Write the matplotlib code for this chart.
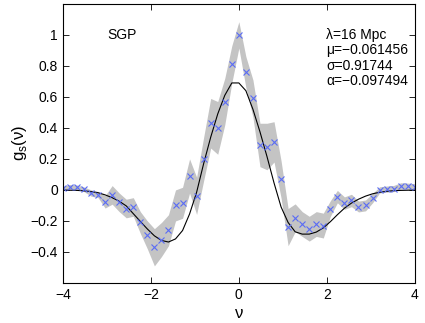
import numpy as np
import matplotlib
matplotlib.use('Agg')
import matplotlib.pyplot as plt

plt.rcParams['font.family'] = ['Liberation Sans', 'DejaVu Sans']
plt.rcParams['axes.unicode_minus'] = True

# threshold grid
nu = np.linspace(-4, 4, 51)

# measured genus (blue crosses)
g_obs = [0.01, 0.02, 0.017, 0.004, -0.02, -0.03, -0.077, -0.032, -0.08, -0.12,
         -0.11, -0.21, -0.29, -0.37, -0.32, -0.26, -0.10, -0.083, 0.09, -0.038,
         0.20, 0.43, 0.40, 0.57, 0.81, 1.00, 0.76, 0.59, 0.29, 0.28,
         0.31, 0.068, -0.24, -0.18, -0.22, -0.25, -0.22, -0.23, -0.12, -0.043,
         -0.085, -0.068, -0.107, -0.10, -0.053, 0.0, 0.005, 0.009, 0.026, 0.024,
         0.02]

# error on the measurement (grey band half width)
g_err = [0.015, 0.015, 0.015, 0.015, 0.02, 0.02, 0.04, 0.06, 0.06, 0.06,
         0.06, 0.07, 0.09, 0.12, 0.11, 0.10, 0.10, 0.10, 0.11, 0.12,
         0.14, 0.16, 0.17, 0.15, 0.12, 0.085, 0.10, 0.12, 0.14, 0.15,
         0.13, 0.12, 0.12, 0.09, 0.08, 0.08, 0.08, 0.08, 0.05, 0.04,
         0.04, 0.04, 0.035, 0.035, 0.03, 0.02, 0.02, 0.02, 0.02, 0.02,
         0.02]

# fitted curve (black line)
g_fit = [-0.001, -0.002, -0.003, -0.006, -0.011, -0.018, -0.032, -0.05, -0.073, -0.103,
         -0.153, -0.203, -0.252, -0.296, -0.326, -0.336, -0.316, -0.262, -0.155, -0.015,
         0.17, 0.34, 0.49, 0.61, 0.69, 0.69, 0.64, 0.52, 0.375, 0.215,
         0.045, -0.11, -0.21, -0.27, -0.285, -0.285, -0.272, -0.245, -0.205, -0.16,
         -0.118, -0.085, -0.06, -0.04, -0.025, -0.015, -0.009, -0.005, -0.003, -0.002,
         -0.001]

params = ['\u03bb=16 Mpc', '\u03bc=\u22120.061456', '\u03c3=0.91744', '\u03b1=\u22120.097494']

g_obs = np.array(g_obs)
g_err = np.array(g_err)

fig = plt.figure(figsize=(4.25, 3.23), dpi=100)
ax = fig.add_axes([0.148, 0.124, 0.828, 0.864])

ax.fill_between(nu, g_obs - g_err, g_obs + g_err, color='#c4c4c4', lw=0)
ax.plot(nu, g_fit, color='black', lw=0.8)
ax.plot(nu, g_obs, 'x', color='#5a6cf5', ms=4, mew=0.8)

ax.set_xlim(-4, 4)
ax.set_ylim(-0.6, 1.2)
ax.set_xticks([-4, -2, 0, 2, 4])
ax.set_yticks([-0.4, -0.2, 0, 0.2, 0.4, 0.6, 0.8, 1])
ax.set_yticklabels(['\u22120.4', '\u22120.2', '0', '0.2', '0.4', '0.6', '0.8', '1'])
ax.set_xticklabels(['\u22124', '\u22122', '0', '2', '4'])
ax.tick_params(direction='in', top=True, right=True, labelsize=10, length=4, width=0.6)
for s in ax.spines.values():
    s.set_linewidth(0.8)

ax.set_xlabel('\u03bd', fontsize=12, labelpad=3)
ax.set_ylabel('g$_\\mathregular{s}$(\u03bd)', fontsize=12, labelpad=1)

ax.text(-2.98, 1.0, 'SGP', fontsize=10, va='center', ha='left')
for k, s in enumerate(params):
    ax.text(1.99, 1.0 - k * 0.1, s, fontsize=10, va='center', ha='left')

fig.savefig('out.png', dpi=100)
